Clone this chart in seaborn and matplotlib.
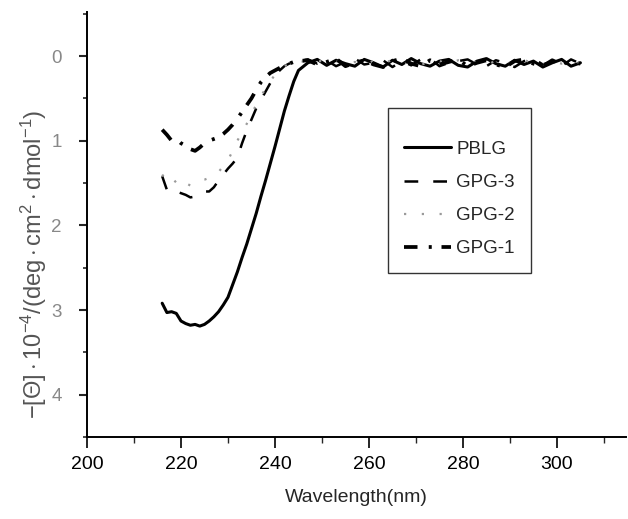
import pandas as pd
import matplotlib
matplotlib.use("Agg")
import matplotlib.pyplot as plt
from matplotlib.ticker import MultipleLocator
import seaborn as sns

# wavelength grid (nm) shared by all four spectra
wavelength = [216, 217, 218, 219, 220, 221, 222, 223, 224, 225,
              226, 227, 228, 229, 230, 231, 232, 233, 234, 235,
              236, 237, 238, 239, 240, 241, 242, 243, 244, 245,
              247, 249, 251, 253, 255, 257, 259, 261, 263, 265,
              267, 269, 271, 273, 275, 277, 279, 281, 283, 285,
              287, 289, 291, 293, 295, 297, 299, 301, 303, 305]

# -[theta] x 10^-4
pblg = [2.92, 3.03, 3.02, 3.04, 3.13, 3.16, 3.18, 3.17, 3.19, 3.17,
        3.13, 3.08, 3.02, 2.94, 2.85, 2.70, 2.55, 2.38, 2.22, 2.04,
        1.86, 1.66, 1.47, 1.27, 1.07, 0.86, 0.65, 0.47, 0.30, 0.17,
        0.08, 0.04, 0.11, 0.05, 0.09, 0.12, 0.04, 0.08, 0.13, 0.05,
        0.10, 0.03, 0.09, 0.12, 0.06, 0.04, 0.11, 0.13, 0.06, 0.03,
        0.09, 0.12, 0.05, 0.10, 0.06, 0.13, 0.08, 0.04, 0.12, 0.08]
gpg3 = [1.42, 1.58, 1.62, 1.60, 1.62, 1.64, 1.67, 1.66, 1.63, 1.60,
        1.60, 1.55, 1.47, 1.40, 1.33, 1.27, 1.20, 1.03, 0.88, 0.75,
        0.62, 0.52, 0.42, 0.32, 0.24, 0.17, 0.12, 0.09, 0.07, 0.06,
        0.04, 0.09, 0.05, 0.12, 0.07, 0.03, 0.10, 0.08, 0.05, 0.13,
        0.06, 0.11, 0.04, 0.03, 0.12, 0.08, 0.06, 0.04, 0.10, 0.12,
        0.05, 0.08, 0.13, 0.06, 0.03, 0.10, 0.06, 0.12, 0.04, 0.09]
gpg2 = [1.40, 1.48, 1.52, 1.47, 1.44, 1.50, 1.53, 1.50, 1.47, 1.46,
        1.44, 1.41, 1.37, 1.30, 1.23, 1.12, 1.00, 0.90, 0.80, 0.68,
        0.58, 0.48, 0.38, 0.30, 0.22, 0.16, 0.12, 0.09, 0.07, 0.06,
        0.07, 0.05, 0.08, 0.06, 0.09, 0.07, 0.10, 0.06, 0.08, 0.05,
        0.09, 0.07, 0.10, 0.08, 0.06, 0.09, 0.05, 0.08, 0.07, 0.10,
        0.06, 0.09, 0.07, 0.05, 0.08, 0.10, 0.06, 0.09, 0.07, 0.08]
gpg1 = [0.87, 0.93, 1.00, 0.98, 1.03, 1.06, 1.10, 1.12, 1.08, 1.03,
        1.00, 0.98, 0.96, 0.92, 0.87, 0.81, 0.74, 0.66, 0.58, 0.50,
        0.40, 0.31, 0.25, 0.20, 0.17, 0.14, 0.11, 0.09, 0.07, 0.06,
        0.05, 0.10, 0.07, 0.03, 0.12, 0.08, 0.05, 0.10, 0.13, 0.06,
        0.03, 0.09, 0.12, 0.05, 0.10, 0.07, 0.04, 0.12, 0.08, 0.05,
        0.10, 0.13, 0.06, 0.04, 0.09, 0.12, 0.05, 0.10, 0.07, 0.09]

series_names = ["PBLG", "GPG-3", "GPG-2", "GPG-1"]
series_values = [pblg, gpg3, gpg2, gpg1]

frames = []
for name, vals in zip(series_names, series_values):
    frames.append(pd.DataFrame({"Wavelength": wavelength, "Theta": vals, "Sample": name}))
df = pd.concat(frames, ignore_index=True)

sns.set_style("ticks")
plt.rcParams["font.family"] = ["Liberation Sans", "DejaVu Sans"]
plt.rcParams["mathtext.fontset"] = "custom"
plt.rcParams["mathtext.rm"] = "Liberation Sans"
plt.rcParams["mathtext.it"] = "Liberation Sans:italic"

styles = {
    "PBLG": dict(color="black", linestyle="-", linewidth=2.2),
    "GPG-3": dict(color="black", linestyle=(0, (5.5, 6)), linewidth=1.8),
    "GPG-2": dict(color="#9a9a9a", linestyle=(0, (1, 7)), linewidth=1.6),
    "GPG-1": dict(color="black", linestyle=(0, (3.6, 3.0, 0.8, 2.6)), linewidth=2.7),
}

fig = plt.figure(figsize=(6.28, 5.19), dpi=100)
ax = fig.add_axes([87 / 628, 1 - 437 / 519, 539 / 628, 425 / 519])

for name in series_names:
    sns.lineplot(data=df[df["Sample"] == name], x="Wavelength", y="Theta",
                 ax=ax, label=name, sort=False, **styles[name])

ax.set_xlim(200, 314.7)
ax.set_ylim(4.5, -0.52)
ax.xaxis.set_major_locator(MultipleLocator(20))
ax.xaxis.set_minor_locator(MultipleLocator(10))
ax.yaxis.set_major_locator(MultipleLocator(1))
ax.yaxis.set_minor_locator(MultipleLocator(0.5))
ax.tick_params(axis="x", which="major", length=8, width=1.2, labelsize=14,
               colors="black", pad=6)
ax.tick_params(axis="x", which="minor", length=4, width=1.0)
ax.tick_params(axis="y", which="major", length=6, width=1.5, labelsize=13.5,
               labelcolor="#888888", pad=12)
ax.tick_params(axis="y", which="minor", length=3, width=1.2)

sns.despine(ax=ax)
for side in ["left", "bottom"]:
    ax.spines[side].set_linewidth(1.4)
    ax.spines[side].set_color("black")

ax.set_xlabel("Wavelength(nm)", fontsize=14, labelpad=11)
ax.set_ylabel(r"$-[\Theta]\cdot10^{-4}/(\mathrm{deg\cdot cm^2\cdot dmol^{-1}})$",
              fontsize=17, color="#555555")
ax.yaxis.set_label_coords(-0.07, 0.406)

leg = ax.legend(loc="upper left", bbox_to_anchor=(0.558, 0.774), borderaxespad=0,
                frameon=True, fancybox=False, edgecolor="black", fontsize=13.5,
                handlelength=2.5, handletextpad=0.3, labelspacing=0.85,
                borderpad=0.85, title=" ", title_fontsize=1)
leg.get_frame().set_linewidth(1.0)

fig.savefig("out.png", dpi=100)
